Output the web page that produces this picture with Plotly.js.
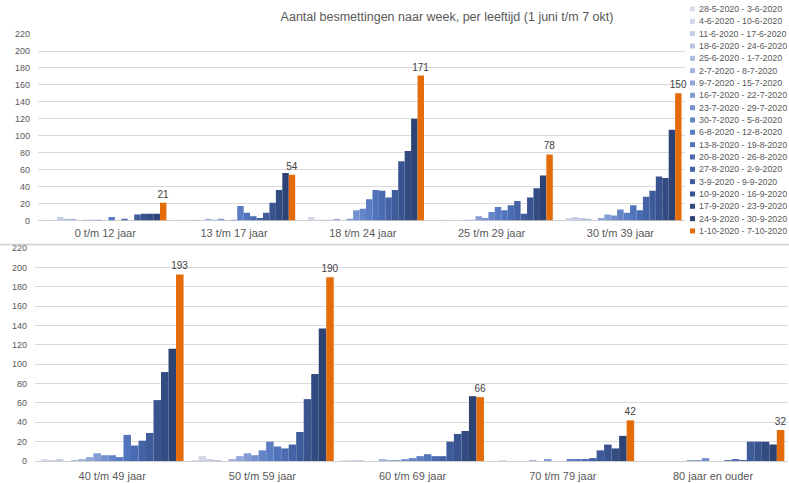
<!DOCTYPE html>
<html>
<head>
<meta charset="utf-8">
<script src="https://cdn.plot.ly/plotly-3.0.1.min.js"></script>
<style>html,body{margin:0;padding:0;background:#fff;}#chart{width:789px;height:483px;}</style>
</head>
<body>
<div id="chart"></div>
<script>
// ---- DATA ----
const weeks = ['28-5-2020 - 3-6-2020','4-6-2020 - 10-6-2020','11-6-2020 - 17-6-2020','18-6-2020 - 24-6-2020',
  '25-6-2020 - 1-7-2020','2-7-2020 - 8-7-2020','9-7-2020 - 15-7-2020','16-7-2020 - 22-7-2020',
  '23-7-2020 - 29-7-2020','30-7-2020 - 5-8-2020','6-8-2020 - 12-8-2020','13-8-2020 - 19-8-2020',
  '20-8-2020 - 26-8-2020','27-8-2020 - 2-9-2020','3-9-2020 - 9-9-2020','10-9-2020 - 16-9-2020',
  '17-9-2020 - 23-9-2020','24-9-2020 - 30-9-2020','1-10-2020 - 7-10-2020'];

const topGroups = ['0 t/m 12 jaar','13 t/m 17 jaar','18 t/m 24 jaar','25 t/m 29 jaar','30 t/m 39 jaar'];
const bottomGroups = ['40 t/m 49 jaar','50 t/m 59 jaar','60 t/m 69 jaar','70 t/m 79 jaar','80 jaar en ouder'];

const age0_12  = [0,1,4,2,2,0,1,1,1,0,4,0,2,0,7,8,8,8,21];
const age13_17 = [1,1,1,1,0,2,1,2,0,1,17,9,5,3,9,21,36,56,54];
const age18_24 = [0,4,1,1,1,2,0,2,12,14,25,36,35,27,36,70,82,120,171];
const age25_29 = [0,1,1,0,0,1,1,5,3,10,16,12,18,23,8,27,38,53,78];
const age30_39 = [0,3,4,3,2,0,3,7,6,13,9,18,12,28,35,52,50,107,150];
const age40_49 = [2,1,2,0,1,2,4,8,6,6,4,27,16,21,29,63,92,116,193];
const age50_59 = [1,5,2,1,0,2,5,8,6,11,20,15,13,17,30,64,90,137,190];
const age60_69 = [1,1,1,0,0,2,1,1,2,3,5,7,5,5,20,28,31,67,66];
const age70_79 = [0,1,0,0,0,1,0,2,0,0,2,2,2,3,11,17,13,26,42];
const age80plus = [0,0,0,0,0,0,1,1,3,0,0,1,2,1,20,20,20,17,32];

const topSeries = [age0_12, age13_17, age18_24, age25_29, age30_39];
const bottomSeries = [age40_49, age50_59, age60_69, age70_79, age80plus];

// ---- STYLE ----
const colors = ['#d9dde9','#d0d6e8','#c6cee6','#bac5e3','#adbbe0','#a0b1dc','#91a6d8','#839bd3','#7490ce',
  '#6585c8','#5a7cc3','#5073bb','#4a6bb1','#4463a6','#3e5b9a','#38538d','#324b80','#2c4373','#e46c0a'];

const W = 789, H = 483;
const last = weeks.length - 1;
const traces = [];
weeks.forEach((wk, i) => {
  const common = {type:'bar', name: wk, marker:{color: colors[i], line:{width:0}}, hoverinfo:'skip',
    cliponaxis:false, constraintext:'none'};
  const yt = topSeries.map(s => s[i]);
  const yb = bottomSeries.map(s => s[i]);
  const t1 = Object.assign({}, common, {x: topGroups, y: yt, xaxis:'x', yaxis:'y'});
  const t2 = Object.assign({}, common, {x: bottomGroups, y: yb, xaxis:'x2', yaxis:'y2'});
  if (i === last) {
    [t1, t2].forEach(t => {
      t.text = t.y.map(String);
      t.textposition = 'outside';
      t.textfont = {size: 10, color: '#404040', family: 'Liberation Sans, Arial, sans-serif'};
    });
  }
  traces.push(t1, t2);
});

const px = v => v / W;
const py = v => 1 - v / H;

const annotations = [];
const shapes = [
  {type:'line', xref:'paper', yref:'paper', x0:0, x1:1, y0:py(244.5), y1:py(244.5), line:{color:'#cfcfcf', width:1.5}}
];
weeks.forEach((wk, i) => {
  const yc = 9 + 12.33 * i;
  shapes.push({type:'rect', xref:'paper', yref:'paper', x0:px(690), x1:px(695), y0:py(yc+2.5), y1:py(yc-2.5),
    fillcolor: colors[i], line:{width:0}});
  annotations.push({xref:'paper', yref:'paper', x:px(697), y:py(yc), xanchor:'left', yanchor:'middle',
    text: wk, showarrow:false, font:{size:8.8, color:'#595959', family:'Liberation Sans, Arial, sans-serif'}});
});

const yax = {range:[0,221], dtick:20, tick0:0, showgrid:true, gridcolor:'#dadada', gridwidth:1,
  zeroline:true, zerolinecolor:'#d0d0d0', zerolinewidth:1, showline:false, ticks:'',
  tickfont:{size:9, color:'#595959'}, ticklabelstandoff:7, fixedrange:true};
const xax = {type:'category', showgrid:false, zeroline:false, showline:false, ticks:'',
  tickfont:{size:11, color:'#595959'}, fixedrange:true};

const layout = {
  width: W, height: H,
  margin:{l:0, r:0, t:0, b:0},
  paper_bgcolor:'#ffffff', plot_bgcolor:'#ffffff',
  font:{family:'Liberation Sans, Arial, sans-serif', color:'#595959'},
  title:{text:'Aantal besmettingen naar week, per leeftijd (1 juni t/m 7 okt)', x:px(447), xanchor:'center',
    y:py(17), yanchor:'middle', font:{size:12.5, color:'#595959'}},
  barmode:'group', bargap:0.05, bargroupgap:0,
  showlegend:false,
  xaxis: Object.assign({}, xax, {domain:[px(38), px(684.8)], anchor:'y', range:[-0.522, 4.5], ticklabelstandoff:4}),
  yaxis: Object.assign({}, yax, {domain:[py(220.5), py(33.2)], anchor:'x'}),
  xaxis2: Object.assign({}, xax, {domain:[px(35), px(788.1)], anchor:'y2', range:[-0.514, 4.5], ticklabelstandoff:7}),
  yaxis2: Object.assign({}, yax, {domain:[py(461), py(247.3)], anchor:'x2'}),
  shapes: shapes,
  annotations: annotations
};

Plotly.newPlot('chart', traces, layout, {displayModeBar:false, staticPlot:true});
</script>
</body>
</html>
